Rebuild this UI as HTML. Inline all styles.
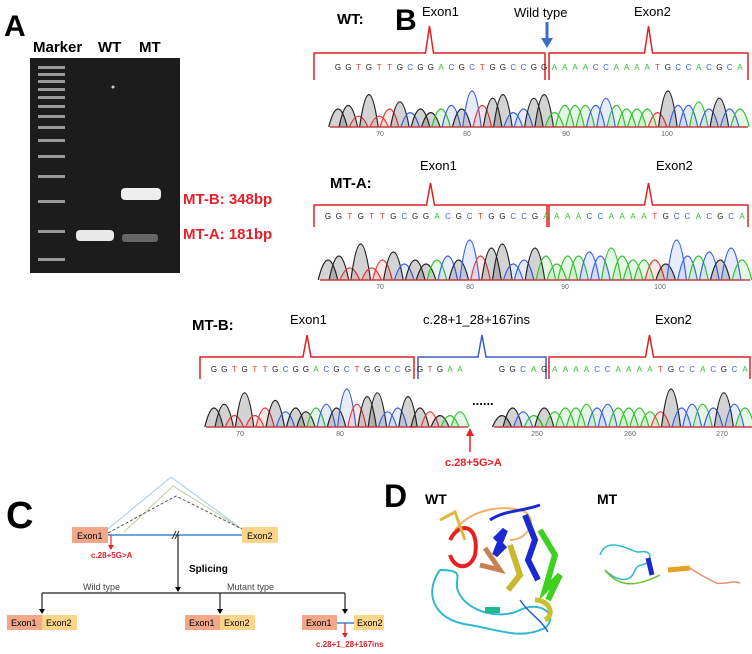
<!DOCTYPE html>
<html><head><meta charset="utf-8"><style>
html,body{margin:0;padding:0;background:#fff;}
svg{display:block;font-family:"Liberation Sans",sans-serif;}
</style></head><body>
<svg id="fig" width="752" height="654" viewBox="0 0 752 654">
<text x="4" y="36" font-size="30" font-weight="bold">A</text>
<g font-size="15" font-weight="bold">
<text x="33" y="52">Marker</text><text x="98" y="52">WT</text><text x="139" y="52">MT</text></g>
<rect x="30" y="58" width="150" height="215" fill="#1c1c1c"/>
<g id="ladder"></g>
<rect x="76" y="230" width="38" height="11" rx="4" fill="#e8e8e8"/>
<rect x="121" y="188" width="40" height="12" rx="4" fill="#eeeeee"/>
<rect x="122" y="234" width="36" height="8" rx="3" fill="#666"/>
<circle cx="113" cy="87" r="1.5" fill="#ccc"/>
<text x="183" y="204" font-size="15" font-weight="bold" fill="#e8202a">MT-B: 348bp</text>
<text x="183" y="239" font-size="15" font-weight="bold" fill="#e8202a">MT-A: 181bp</text>

<text x="395" y="30" font-size="30" font-weight="bold">B</text>
<text x="337" y="24" font-size="15" font-weight="bold">WT:</text>
<text x="422" y="16" font-size="13">Exon1</text>
<text x="514" y="17" font-size="13">Wild type</text>
<text x="634" y="16" font-size="13">Exon2</text>
<path d="M547 22 V40" stroke="#3a6fc4" stroke-width="3"/><path d="M541 38 L547 48 L553 38Z" fill="#3a6fc4"/>
<g id="bwt"></g>
<text x="330" y="188" font-size="15" font-weight="bold">MT-A:</text>
<text x="420" y="170" font-size="13">Exon1</text>
<text x="656" y="170" font-size="13">Exon2</text>
<g id="bmta"></g>
<text x="192" y="330" font-size="15" font-weight="bold">MT-B:</text>
<text x="290" y="324" font-size="13">Exon1</text>
<text x="423" y="324" font-size="13">c.28+1_28+167ins</text>
<text x="655" y="324" font-size="13">Exon2</text>
<g id="bmtb"></g>
<text x="472" y="405" font-size="13" font-weight="bold">......</text>
<path d="M470 452 V434" stroke="#e8202a" stroke-width="1.5"/><path d="M466 436 L470 428 L474 436Z" fill="#e8202a"/>
<text x="445" y="466" font-size="11" font-weight="bold" fill="#e8202a">c.28+5G&gt;A</text>

<text x="6" y="528" font-size="38" font-weight="bold">C</text>
<path d="M108 529 L171 477 L242 529" fill="none" stroke="#a9c7e8" stroke-width="1"/>
<path d="M124 532 L173 486 L242 529" fill="none" stroke="#c2cf9e" stroke-width="1"/>
<path d="M108 533 L176 496 L242 529" fill="none" stroke="#555" stroke-width="1" stroke-dasharray="3,2"/>
<rect x="72" y="527" width="36" height="16" fill="#f2a68a"/>
<text x="77" y="539" font-size="9">Exon1</text>
<rect x="242" y="527" width="36" height="16" fill="#fcd58a"/>
<text x="247" y="539" font-size="9">Exon2</text>
<line x1="108" y1="535" x2="242" y2="535" stroke="#3a86d8" stroke-width="1.5"/>
<path d="M172 539 L176 531 M175 539 L179 531" stroke="#333" stroke-width="1"/>
<path d="M111 535 V546" stroke="#e8202a" stroke-width="1.2"/><path d="M108 545 L111 550 L114 545Z" fill="#e8202a"/>
<text x="91" y="558" font-size="8" fill="#e8202a" font-weight="bold">c.28+5G&gt;A</text>
<line x1="178" y1="535" x2="178" y2="590" stroke="#222" stroke-width="1.2"/><path d="M175 587 L178 592 L181 587Z"/>
<text x="189" y="572" font-size="10" font-weight="bold">Splicing</text>
<text x="83" y="590" font-size="9" fill="#444">Wild type</text>
<text x="227" y="590" font-size="9" fill="#444">Mutant type</text>
<line x1="42" y1="593" x2="345" y2="593" stroke="#222" stroke-width="1.2"/>
<g stroke="#222" stroke-width="1.2"><line x1="42" y1="593" x2="42" y2="610"/><line x1="220" y1="593" x2="220" y2="610"/><line x1="345" y1="593" x2="345" y2="610"/></g>
<g><path d="M39 609 L42 614 L45 609Z"/><path d="M217 609 L220 614 L223 609Z"/><path d="M342 609 L345 614 L348 609Z"/></g>
<g font-size="9">
<rect x="7" y="615" width="35" height="15" fill="#f2a68a"/><text x="11" y="626">Exon1</text>
<rect x="42" y="615" width="35" height="15" fill="#fcd58a"/><text x="46" y="626">Exon2</text>
<rect x="185" y="615" width="35" height="15" fill="#f2a68a"/><text x="189" y="626">Exon1</text>
<rect x="220" y="615" width="35" height="15" fill="#fcd58a"/><text x="224" y="626">Exon2</text>
<rect x="302" y="615" width="35" height="15" fill="#f2a68a"/><text x="306" y="626">Exon1</text>
<line x1="337" y1="623" x2="354" y2="623" stroke="#3a86d8" stroke-width="1.5"/>
<rect x="354" y="615" width="30" height="15" fill="#fcd58a"/><text x="357" y="626">Exon2</text>
</g>
<path d="M345 623 V634" stroke="#e8202a" stroke-width="1.2"/><path d="M342 633 L345 638 L348 633Z" fill="#e8202a"/>
<text x="316" y="647" font-size="8" fill="#e8202a" font-weight="bold">c.28+1_28+167ins</text>

<text x="384" y="507" font-size="32" font-weight="bold">D</text>
<text x="425" y="504" font-size="14" font-weight="bold">WT</text>
<text x="597" y="504" font-size="14" font-weight="bold">MT</text>
<g fill="none" stroke-width="2">
<path d="M440 570 C425 590 430 620 470 625 C500 630 520 640 545 628 C560 615 540 600 520 610 C500 620 470 612 460 595 C450 580 470 570 440 570" stroke="#2fb8d0"/>
<path d="M455 530 C470 510 500 505 520 510 C540 515 530 540 510 540" stroke="#f2b070"/>
<path d="M450 540 C460 520 480 525 475 555 C470 570 455 570 450 555" stroke="#e82020" stroke-width="4"/>
<path d="M490 520 C505 510 520 512 540 505" stroke="#1a2ad0" stroke-width="3"/>
<path d="M495 540 L505 530 L495 555 L505 545" stroke="#1a2ad0" stroke-width="6"/>
<path d="M525 515 L535 540 L528 560 L538 580" stroke="#1a2ad0" stroke-width="6"/>
<path d="M540 530 L555 555 L545 590 L560 575 L548 600" stroke="#40d020" stroke-width="6"/>
<path d="M510 545 L520 575 L508 590" stroke="#c8b830" stroke-width="6"/>
<path d="M440 520 L455 512 L465 540" stroke="#e0b840" stroke-width="3"/>
<path d="M485 548 L500 570 L480 565" stroke="#c88050" stroke-width="5"/>
<path d="M485 610 L500 610" stroke="#20b890" stroke-width="6"/>
<path d="M535 600 C550 600 555 615 545 620" stroke="#c8c030" stroke-width="5"/>
<path d="M520 600 C530 615 540 618 548 632" stroke="#2060d0" stroke-width="1.5"/>
</g>
<g fill="none" stroke-width="1.5">
<path d="M600 555 C605 540 620 545 632 550 C640 555 645 548 650 555 C648 570 640 560 635 570 C630 585 615 580 605 570" stroke="#2fb8d0"/>
<path d="M605 570 C620 590 640 585 660 575" stroke="#70c030"/>
<path d="M648 558 L652 575" stroke="#1a2ad0" stroke-width="5"/>
<path d="M668 570 L690 568" stroke="#e8a020" stroke-width="5"/>
<path d="M690 568 C700 575 710 580 716 583 C725 585 732 580 740 583" stroke="#e89070"/>
</g>
</svg>
<script>
var ladderY=[66,73,80,88,96,105,115,126,139,155,175,200,230,258];
var colMap={G:'#222',T:'#e23a3a',C:'#3a5fe0',A:'#30c030'};
var wtSeq="GGTGTTGCGGACGCTGGCCGGAAAACCAAAATGCCACGCA";
var wtHeights=[0.5,0.6,0.3,0.9,0.3,0.5,0.7,0.4,0.5,0.4,0.5,0.6,0.5,1.0,0.6,0.8,0.9,0.4,0.5,0.8,0.9,0.4,0.6,0.6,0.6,0.6,0.8,0.6,0.5,0.5,0.5,0.4,1.0,0.6,0.6,0.7,0.5,0.8,0.5,0.5];
var mtaSeq="GGTGTTGCGGACGCTGGCCGAAAACCAAAATGCCACGCA";
var mtaHeights=[0.5,0.6,0.3,0.9,0.3,0.5,0.7,0.4,0.5,0.4,0.5,0.6,0.5,1.0,0.6,0.8,0.9,0.4,0.5,0.8,0.6,0.4,0.6,0.6,0.7,0.6,0.8,0.6,0.5,0.5,0.5,0.4,1.0,0.6,0.6,0.7,0.5,0.8,0.5];
var mtbSeq1="GGTGTTGCGGACGCTGGCCG";
var mtbHeights=[0.5,0.6,0.3,0.9,0.3,0.5,0.7,0.4,0.5,0.4,0.5,0.6,0.5,1.0,0.6,0.8,0.9,0.4,0.5,0.8];
var mtbSeq2="GTGAA";
var mtbHeights2=[0.5,0.4,0.3,0.3,0.4];
var mtbSeq3="GGCAGAAAACCAAAATGCCACGCA";
var mtbHeights3=[0.3,0.5,0.4,0.3,0.5,0.4,0.5,0.5,0.6,0.5,0.6,0.5,0.5,0.5,0.4,0.4,1.0,0.5,0.6,0.6,0.5,0.9,0.6,0.5];
var ns='http://www.w3.org/2000/svg';
function el(tag,attrs,parent){var e=document.createElementNS(ns,tag);for(var k in attrs)e.setAttribute(k,attrs[k]);parent.appendChild(e);return e;}
var lg=document.getElementById('ladder');
ladderY.forEach(function(y){
 var r=el('rect',{x:38,y:y,width:27,height:3,fill:'#9a9a9a'},lg);
 
 
});
function trace(gid,seq,hts,x0,x1,seqY,baseY,peakH,ticks){
 var g=document.getElementById(gid);var n=seq.length;var step=(x1-x0)/(n-1);
 for(var i=0;i<n;i++){var x=x0+i*step;var c=colMap[seq[i]];
  var t=el('text',{x:x,y:seqY,'font-size':8,'text-anchor':'middle',fill:c},g);t.textContent=seq[i];
  var h=hts[i]*peakH;
  var p=el('path',{d:'M'+(x-step*0.9)+' '+baseY+' Q'+x+' '+(baseY-2*h)+' '+(x+step*0.9)+' '+baseY,fill:c,'fill-opacity':seq[i]=='G'?0.2:0.12,stroke:c,'stroke-width':1.2},g);
  
  
 }
 el('line',{x1:x0-8,y1:baseY,x2:x1+8,y2:baseY,stroke:'#c04040','stroke-width':1.5},g);
 ticks.forEach(function(tk){var tt=el('text',{x:tk[0],y:baseY+9,'font-size':7,fill:'#666','text-anchor':'middle'},g);tt.textContent=tk[1];});
}
function brace(gid,x0,x1,y,h,color){var g=document.getElementById(gid);var m=(x0+x1)/2;
 el('path',{d:'M'+x0+' '+(y+h)+' V'+y+' H'+(m-4)+' L'+m+' '+(y-h)+' L'+(m+4)+' '+y+' H'+x1+' V'+(y+h),fill:'none',stroke:color,'stroke-width':1.5},g);}
brace('bwt',314,545,53,27,'#e02020');brace('bwt',549,748,53,27,'#e02020');
trace('bwt',wtSeq,wtHeights,338,740,70,127,36,[[380,'70'],[467,'80'],[566,'90'],[667,'100']]);
brace('bmta',314,547,205,22,'#e02020');brace('bmta',549,748,205,22,'#e02020');
trace('bmta',mtaSeq,mtaHeights,328,742,219,280,40,[[380,'70'],[470,'80'],[565,'90'],[660,'100']]);
brace('bmtb',200,414,357,22,'#e02020');brace('bmtb',418,546,357,22,'#3a5fc4');brace('bmtb',549,750,357,22,'#e02020');
trace('bmtb',mtbSeq1,mtbHeights,214,408,372,427,38,[[240,'70'],[340,'80']]);
trace('bmtb',mtbSeq2,mtbHeights2,420,460,372,427,38,[]);
trace('bmtb',mtbSeq3,mtbHeights3,502,745,372,427,38,[[537,'250'],[630,'260'],[722,'270']]);
</script>
</body></html>
